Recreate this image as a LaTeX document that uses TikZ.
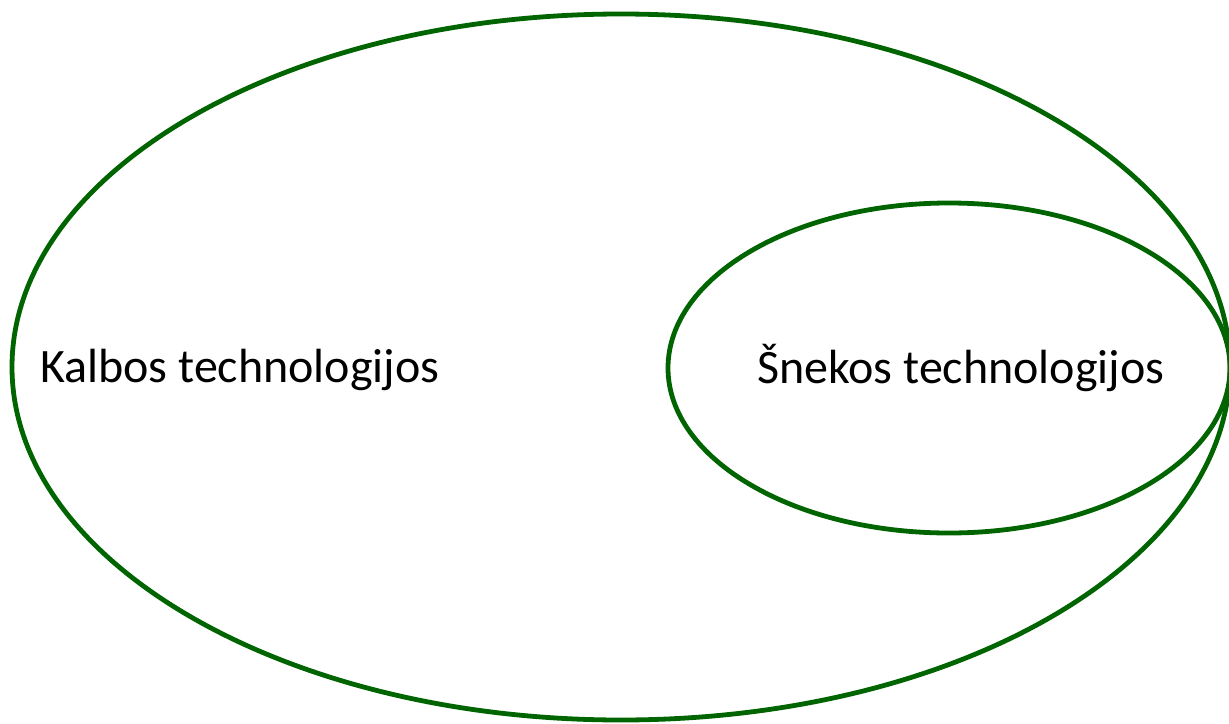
\documentclass[tikz,border=0pt]{standalone}
\usepackage{fontspec}
\setmainfont{Carlito}
\definecolor{dgreen}{RGB}{0,100,0}
\begin{document}
\begin{tikzpicture}[x=1pt,y=-1pt,
  ring/.style={draw=dgreen,line width=4.8pt},
  lbl/.style={font=\fontsize{48}{56}\selectfont,text=black,inner sep=0pt}]
\useasboundingbox (0,0) rectangle (1229,723);
\clip (0,0) rectangle (1229,723);
\draw[ring] (621,367) ellipse [x radius=609, y radius=353];
\draw[ring] (949,368) ellipse [x radius=281, y radius=165];
\node[lbl,anchor=west] (k) at (40,370) {Kalbos technologijos};
\node[lbl,anchor=west] (s) at (757,368) {Šnekos technologijos};
\end{tikzpicture}
\end{document}
